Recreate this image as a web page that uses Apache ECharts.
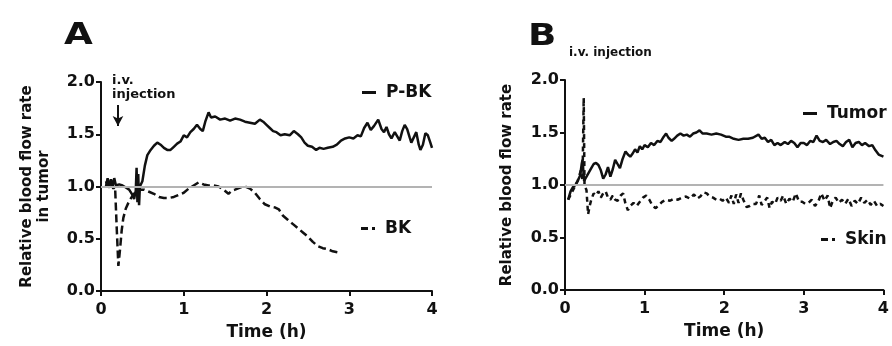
<!DOCTYPE html>
<html>
<head>
<meta charset="utf-8">
<script src="https://cdn.jsdelivr.net/npm/echarts@6/dist/echarts.min.js"></script>
<style>
  html, body { margin: 0; padding: 0; background: #fff; }
  #chart { width: 892px; height: 346px; }
</style>
</head>
<body>
<div id="chart"></div>
<script>
// [time (h), relative blood flow rate]
const pbk = [
  [0.06, 1.00], [0.08, 1.08], [0.10, 0.99], [0.12, 1.07], [0.14, 1.00], [0.16, 1.08], [0.18, 1.01],
  [0.22, 1.02], [0.26, 1.01], [0.30, 0.99], [0.34, 0.97], [0.38, 0.92], [0.40, 0.88], [0.42, 0.96],
  [0.43, 1.18], [0.44, 0.85], [0.45, 1.12], [0.46, 0.82], [0.47, 1.00], [0.50, 1.05], [0.53, 1.20],
  [0.56, 1.30], [0.60, 1.35], [0.64, 1.39], [0.68, 1.42], [0.72, 1.40], [0.76, 1.37], [0.80, 1.35],
  [0.84, 1.35], [0.88, 1.38], [0.92, 1.41], [0.96, 1.43], [1.00, 1.49], [1.04, 1.47], [1.08, 1.52],
  [1.12, 1.55], [1.16, 1.59], [1.20, 1.55], [1.23, 1.53], [1.26, 1.62], [1.30, 1.71], [1.33, 1.66],
  [1.38, 1.67], [1.44, 1.64], [1.50, 1.65], [1.56, 1.63], [1.62, 1.65], [1.68, 1.64], [1.74, 1.62],
  [1.80, 1.61], [1.86, 1.60], [1.92, 1.64], [1.96, 1.62], [2.00, 1.59], [2.04, 1.56], [2.08, 1.53],
  [2.12, 1.52], [2.17, 1.49], [2.22, 1.50], [2.28, 1.49], [2.33, 1.53], [2.38, 1.50], [2.42, 1.47],
  [2.46, 1.42], [2.50, 1.39], [2.55, 1.38], [2.60, 1.35], [2.64, 1.37], [2.69, 1.36], [2.74, 1.37],
  [2.80, 1.38], [2.85, 1.40], [2.90, 1.44], [2.95, 1.46], [3.00, 1.47], [3.05, 1.46], [3.10, 1.49],
  [3.14, 1.48], [3.18, 1.56], [3.22, 1.61], [3.26, 1.54], [3.30, 1.58], [3.35, 1.64], [3.39, 1.55],
  [3.42, 1.52], [3.45, 1.57], [3.48, 1.50], [3.51, 1.46], [3.55, 1.52], [3.58, 1.48], [3.61, 1.44],
  [3.64, 1.53], [3.67, 1.59], [3.70, 1.55], [3.73, 1.47], [3.75, 1.42], [3.78, 1.47], [3.81, 1.52],
  [3.84, 1.40], [3.86, 1.35], [3.89, 1.40], [3.92, 1.51], [3.95, 1.49], [3.98, 1.42], [4.00, 1.37]
]

const bk = [
  [0.06, 1.05], [0.09, 0.99], [0.12, 1.03], [0.15, 0.98], [0.17, 1.00], [0.19, 0.60], [0.21, 0.24],
  [0.23, 0.40], [0.25, 0.58], [0.27, 0.70], [0.30, 0.79], [0.34, 0.86], [0.38, 0.91], [0.41, 0.94],
  [0.44, 0.98], [0.48, 0.97], [0.52, 0.97], [0.58, 0.95], [0.64, 0.93], [0.70, 0.90], [0.76, 0.89],
  [0.82, 0.89], [0.88, 0.90], [0.94, 0.92], [1.00, 0.94], [1.06, 0.98], [1.12, 1.01], [1.18, 1.04],
  [1.24, 1.02], [1.30, 1.01], [1.36, 1.01], [1.42, 1.00], [1.48, 0.97], [1.54, 0.93], [1.58, 0.96],
  [1.62, 0.97], [1.68, 0.99], [1.74, 1.00], [1.80, 0.98], [1.86, 0.94], [1.92, 0.88], [1.98, 0.83],
  [2.04, 0.81], [2.10, 0.80], [2.15, 0.78], [2.20, 0.72], [2.26, 0.68], [2.32, 0.64], [2.38, 0.60],
  [2.44, 0.56], [2.50, 0.52], [2.56, 0.47], [2.62, 0.43], [2.68, 0.41], [2.74, 0.40], [2.80, 0.38],
  [2.86, 0.37]
]

const tumor = [
  [0.04, 0.86], [0.07, 0.94], [0.10, 0.98], [0.13, 1.00], [0.16, 1.04], [0.19, 1.09], [0.21, 1.20],
  [0.22, 1.24], [0.24, 1.04], [0.27, 1.08], [0.30, 1.12], [0.33, 1.16], [0.36, 1.20], [0.39, 1.21],
  [0.42, 1.19], [0.45, 1.14], [0.48, 1.06], [0.51, 1.10], [0.54, 1.17], [0.57, 1.08], [0.60, 1.15],
  [0.63, 1.24], [0.66, 1.20], [0.69, 1.16], [0.72, 1.24], [0.76, 1.32], [0.79, 1.29], [0.82, 1.27],
  [0.85, 1.30], [0.88, 1.34], [0.91, 1.31], [0.94, 1.37], [0.97, 1.34], [1.00, 1.38], [1.04, 1.36],
  [1.08, 1.40], [1.12, 1.38], [1.16, 1.42], [1.20, 1.41], [1.24, 1.46], [1.27, 1.49], [1.30, 1.45],
  [1.34, 1.42], [1.37, 1.44], [1.41, 1.47], [1.45, 1.49], [1.49, 1.47], [1.53, 1.48], [1.57, 1.46],
  [1.61, 1.49], [1.65, 1.50], [1.69, 1.52], [1.73, 1.49], [1.78, 1.49], [1.84, 1.48], [1.90, 1.49],
  [1.96, 1.48], [2.02, 1.46], [2.06, 1.46], [2.12, 1.44], [2.18, 1.43], [2.24, 1.44], [2.30, 1.44],
  [2.36, 1.45], [2.43, 1.48], [2.47, 1.44], [2.51, 1.45], [2.55, 1.41], [2.59, 1.43], [2.63, 1.38],
  [2.67, 1.40], [2.71, 1.38], [2.76, 1.41], [2.80, 1.39], [2.84, 1.42], [2.88, 1.40], [2.92, 1.36],
  [2.96, 1.40], [3.00, 1.40], [3.04, 1.38], [3.08, 1.42], [3.12, 1.41], [3.16, 1.47], [3.20, 1.42],
  [3.24, 1.41], [3.28, 1.43], [3.33, 1.39], [3.37, 1.41], [3.41, 1.42], [3.45, 1.39], [3.49, 1.37],
  [3.53, 1.41], [3.57, 1.43], [3.61, 1.36], [3.65, 1.40], [3.69, 1.41], [3.73, 1.38], [3.77, 1.40],
  [3.82, 1.37], [3.86, 1.38], [3.90, 1.33], [3.94, 1.29], [3.97, 1.28], [4.00, 1.27]
]

const skin = [
  [0.04, 0.86], [0.08, 0.92], [0.12, 0.98], [0.16, 1.04], [0.20, 1.14], [0.22, 1.04], [0.235, 1.83],
  [0.245, 1.00], [0.27, 0.95], [0.29, 0.72], [0.31, 0.80], [0.33, 0.86], [0.36, 0.92], [0.39, 0.90],
  [0.42, 0.94], [0.45, 0.88], [0.48, 0.92], [0.51, 0.94], [0.54, 0.88], [0.57, 0.86], [0.60, 0.90],
  [0.63, 0.86], [0.66, 0.85], [0.70, 0.90], [0.73, 0.92], [0.76, 0.82], [0.79, 0.76], [0.82, 0.80],
  [0.86, 0.83], [0.90, 0.80], [0.94, 0.84], [0.98, 0.88], [1.02, 0.90], [1.06, 0.86], [1.10, 0.80],
  [1.14, 0.78], [1.18, 0.81], [1.22, 0.84], [1.27, 0.86], [1.32, 0.85], [1.37, 0.87], [1.42, 0.86],
  [1.47, 0.88], [1.52, 0.89], [1.57, 0.87], [1.62, 0.91], [1.66, 0.87], [1.70, 0.89], [1.74, 0.93],
  [1.78, 0.92], [1.82, 0.89], [1.86, 0.88], [1.90, 0.86], [1.94, 0.87], [1.98, 0.85], [2.02, 0.88],
  [2.06, 0.83], [2.09, 0.90], [2.12, 0.82], [2.15, 0.91], [2.18, 0.83], [2.21, 0.92], [2.24, 0.86],
  [2.28, 0.79], [2.32, 0.80], [2.36, 0.82], [2.40, 0.82], [2.44, 0.90], [2.47, 0.81], [2.50, 0.84],
  [2.54, 0.88], [2.57, 0.78], [2.60, 0.84], [2.64, 0.82], [2.67, 0.88], [2.71, 0.85], [2.74, 0.90],
  [2.78, 0.82], [2.82, 0.87], [2.86, 0.84], [2.90, 0.92], [2.94, 0.84], [2.98, 0.84], [3.02, 0.82],
  [3.06, 0.83], [3.10, 0.86], [3.14, 0.80], [3.18, 0.84], [3.22, 0.92], [3.26, 0.85], [3.30, 0.90],
  [3.33, 0.78], [3.36, 0.84], [3.40, 0.88], [3.44, 0.83], [3.48, 0.86], [3.52, 0.82], [3.56, 0.87],
  [3.60, 0.80], [3.64, 0.85], [3.68, 0.82], [3.72, 0.88], [3.76, 0.83], [3.80, 0.86], [3.84, 0.81],
  [3.88, 0.85], [3.92, 0.80], [3.96, 0.82], [4.00, 0.80]
]

const baseline = 1.0
// injection arrows: [time, arrow top, arrow tip]
const arrowA = [0.205, 1.78, 1.58]
const arrowB = [0.22, 2.14, 1.92]

const FONT = 'DejaVu Sans'
const INK = '#111'
// legend keys drawn like the original: a bar, or a dash and a dot
const SOLID_KEY = 'path://M0,0h14v3h-14z'
const DASH_KEY = 'path://M0,0h7v3h-7z M11,0h3v3h-3z'

const xAxisFor = (gridIndex) => ({
  type: 'value',
  gridIndex,
  min: 0,
  max: 4,
  interval: 1,
  name: 'Time (h)',
  nameLocation: 'middle',
  nameGap: 33,
  nameTextStyle: { fontFamily: FONT, fontWeight: 'bold', fontSize: 17, color: INK },
  axisLine: { show: true, onZero: false, lineStyle: { color: INK, width: 2 } },
  axisTick: { show: true, length: 5, lineStyle: { color: INK, width: 2 } },
  axisLabel: { fontFamily: FONT, fontWeight: 'bold', fontSize: 16, color: INK, margin: 11 },
  splitLine: { show: false },
})

const yAxisFor = (gridIndex, name, gap) => ({
  type: 'value',
  gridIndex,
  min: 0,
  max: 2,
  interval: 0.5,
  name,
  nameLocation: 'middle',
  nameGap: gap,
  nameTextStyle: { fontFamily: FONT, fontWeight: 'bold', fontSize: 15, color: INK, lineHeight: 17 },
  axisLine: { show: true, onZero: false, lineStyle: { color: INK, width: 2 } },
  axisTick: { show: true, length: 5, lineStyle: { color: INK, width: 2 } },
  axisLabel: {
    fontFamily: FONT, fontWeight: 'bold', fontSize: 16, color: INK, margin: 6,
    formatter: (v) => v.toFixed(1),
  },
  splitLine: { show: false },
})

const baselineMark = {
  silent: true,
  symbol: 'none',
  label: { show: false },
  lineStyle: { color: '#b3b3b3', width: 2, type: 'solid' },
  data: [{ yAxis: baseline }],
}

const arrowMark = (a) => ({
  silent: true,
  symbol: ['none', 'arrow'],
  symbolSize: [8, 10],
  label: { show: false },
  lineStyle: { color: INK, width: 2, type: 'solid' },
  data: [[{ coord: [a[0], a[1]] }, { coord: [a[0], a[2]] }]],
})

const legendFor = (name, icon, left, top) => ({
  data: [{ name, icon }],
  left,
  top,
  itemWidth: 14,
  itemHeight: 3,
  itemGap: 0,
  selectedMode: false,
  textStyle: { fontFamily: FONT, fontWeight: 'bold', fontSize: 17, color: INK, padding: [0, 0, 0, 5] },
})

const lineSeries = (name, data, idx, dashed) => ({
  name,
  type: 'line',
  xAxisIndex: idx,
  yAxisIndex: idx,
  data,
  symbol: 'none',
  smooth: false,
  clip: false,
  lineStyle: { color: INK, width: 2.5, type: dashed || 'solid' },
  itemStyle: { color: INK },
})

const chart = echarts.init(document.getElementById('chart'))

const option = {
  animation: false,
  backgroundColor: '#fff',
  grid: [
    { left: 101, top: 82, width: 331, height: 210 },
    { left: 565, top: 80, width: 327, height: 210 },
  ],
  xAxis: [xAxisFor(0), xAxisFor(1)],
  yAxis: [
    yAxisFor(0, 'Relative blood flow rate\nin tumor', 48),
    yAxisFor(1, 'Relative blood flow rate', 49),
  ],
  legend: [
    legendFor('P-BK', SOLID_KEY, 357, 79),
    legendFor('BK', DASH_KEY, 356, 215),
    legendFor('Tumor', SOLID_KEY, 798, 100),
    legendFor('Skin', DASH_KEY, 816, 226),
  ],
  graphic: [
    { type: 'text', left: 64, top: 20, scaleX: 1.2, style: { text: 'A', font: 'bold 31px "DejaVu Sans"', fill: INK } },
    { type: 'text', left: 528, top: 21, scaleX: 1.2, style: { text: 'B', font: 'bold 31px "DejaVu Sans"', fill: INK } },
    { type: 'text', left: 112, top: 74, style: { text: 'i.v.\ninjection', font: 'bold 13px "DejaVu Sans"', fill: INK, lineHeight: 14 } },
    { type: 'text', left: 569, top: 47, style: { text: 'i.v. injection', font: 'bold 12px "DejaVu Sans"', fill: INK } },
  ],
  series: [
    { ...lineSeries('P-BK', pbk, 0), markLine: baselineMark },
    { ...lineSeries('BK', bk, 0, [8, 4]), markLine: arrowMark(arrowA) },
    { ...lineSeries('Tumor', tumor, 1), markLine: baselineMark },
    { ...lineSeries('Skin', skin, 1, [5, 4]), markLine: arrowMark(arrowB) },
  ],
}

chart.setOption(option)
</script>
</body>
</html>
